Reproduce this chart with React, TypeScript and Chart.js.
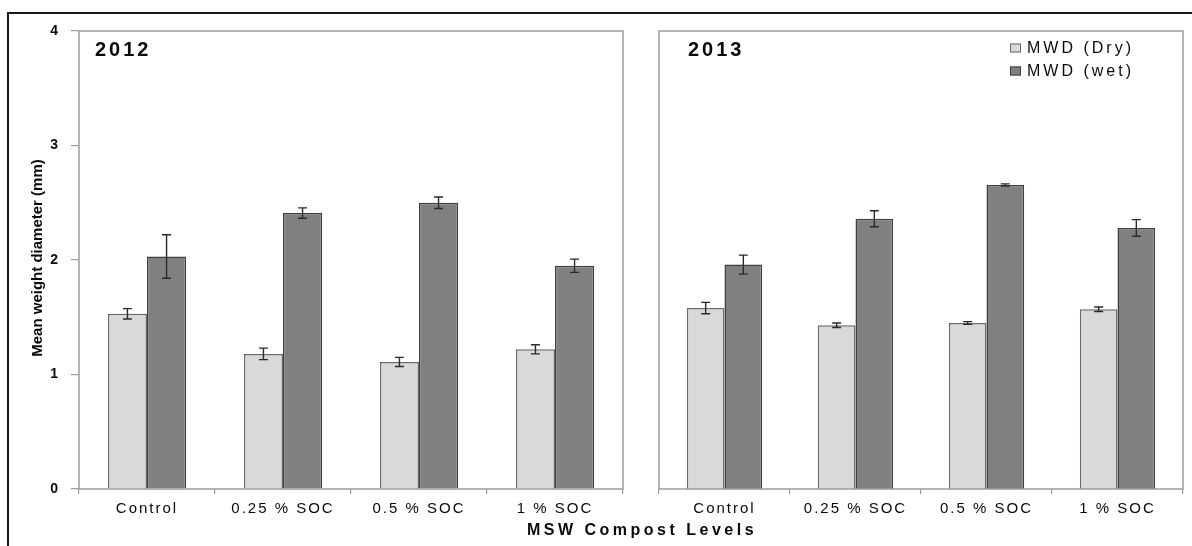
import { useEffect, useRef } from 'react';
import { Chart, registerables } from 'chart.js';

Chart.register(...registerables);

// ---- data ----
const categories = ['Control', '0.25 % SOC', '0.5 % SOC', '1 % SOC'];
const seriesLabels = ['MWD (Dry)', 'MWD (wet)'];
const yearLabels = ['2012', '2013'];

const dry2012 = [1.53, 1.18, 1.11, 1.22];
const wet2012 = [2.03, 2.41, 2.5, 1.95];
const dryErr2012 = [0.045, 0.05, 0.04, 0.04];
const wetErr2012 = [0.19, 0.045, 0.05, 0.058];

const dry2013 = [1.58, 1.43, 1.45, 1.57];
const wet2013 = [1.96, 2.36, 2.655, 2.28];
const dryErr2013 = [0.05, 0.02, 0.012, 0.02];
const wetErr2013 = [0.083, 0.07, 0.01, 0.073];

const yMin = 0;
const yMax = 4;
const yStep = 1;

const yTitle = 'Mean weight diameter (mm)';
const xTitle = 'MSW Compost Levels';

// ---- styles ----
const FONT = '"Liberation Sans", Arial, Helvetica, sans-serif';
const DRY_FILL = '#d9d9d9';
const DRY_BORDER = '#6a6a6a';
const WET_FILL = '#808080';
const WET_BORDER = '#3f3f3f';
const FRAME = '#9c9c9c';
const TEXT = '#0a0a0a';

const decorPlugin = {
  id: 'panelDecor',
  beforeDraw(chart: any) {
    (chart.ctx as any).letterSpacing = '2px';
  },
  afterDatasetsDraw(chart: any) {
    const o = chart.options.plugins.panelDecor;
    const ctx = chart.ctx;
    const yScale = chart.scales.y;
    ctx.save();
    ctx.strokeStyle = '#2a2a2a';
    ctx.lineWidth = 1.4;
    chart.data.datasets.forEach((ds: any, di: number) => {
      const meta = chart.getDatasetMeta(di);
      const errs = o.errors[di];
      meta.data.forEach((bar: any, i: number) => {
        const v = ds.data[i];
        const e = errs[i];
        const x = bar.x;
        const yT = yScale.getPixelForValue(v + e);
        const yB = yScale.getPixelForValue(v - e);
        const cap = 4.5;
        ctx.beginPath();
        ctx.moveTo(x, yT);
        ctx.lineTo(x, yB);
        ctx.moveTo(x - cap, yT);
        ctx.lineTo(x + cap, yT);
        ctx.moveTo(x - cap, yB);
        ctx.lineTo(x + cap, yB);
        ctx.stroke();
      });
    });
    ctx.restore();
  },
  afterDraw(chart: any) {
    const o = chart.options.plugins.panelDecor;
    const ctx = chart.ctx as any;
    const { left, right, top, bottom } = chart.chartArea;
    ctx.save();
    // panel frame
    ctx.strokeStyle = FRAME;
    ctx.lineWidth = 1.5;
    ctx.strokeRect(left, top, right - left, bottom - top);

    // year label
    ctx.fillStyle = TEXT;
    ctx.font = `bold 20px ${FONT}`;
    ctx.letterSpacing = '3px';
    ctx.textAlign = 'left';
    ctx.textBaseline = 'middle';
    ctx.fillText(o.label, left + o.labelOffset, top + 19);

    // legend
    if (o.legend) {
      chart.data.datasets.forEach((ds: any, i: number) => {
        const y = top + 17 + i * 23;
        const sx = right - 173;
        ctx.fillStyle = ds.backgroundColor;
        ctx.fillRect(sx, y - 4.5, 11, 9);
        ctx.strokeStyle = ds.borderColor;
        ctx.lineWidth = 1;
        ctx.strokeRect(sx + 0.5, y - 4, 10, 8);
        ctx.fillStyle = TEXT;
        ctx.font = `16px ${FONT}`;
        ctx.letterSpacing = '3px';
        ctx.textAlign = 'left';
        ctx.textBaseline = 'middle';
        ctx.fillText(ds.label, right - 156, y + 1);
      });
    }

    // y title
    if (o.yTitle) {
      ctx.translate(38, (top + bottom) / 2 - 2);
      ctx.rotate(-Math.PI / 2);
      ctx.fillStyle = TEXT;
      ctx.font = `bold 15px ${FONT}`;
      ctx.letterSpacing = '0px';
      ctx.textAlign = 'center';
      ctx.textBaseline = 'middle';
      ctx.fillText(o.yTitle, 0, 0);
    }
    ctx.restore();
  },
};

function makeConfig(
  dry: number[],
  wet: number[],
  dryErr: number[],
  wetErr: number[],
  label: string,
  isLeft: boolean
): any {
  return {
    type: 'bar',
    data: {
      labels: categories,
      datasets: [
        {
          label: seriesLabels[0],
          data: dry,
          backgroundColor: DRY_FILL,
          borderColor: DRY_BORDER,
          borderWidth: 1.5,
          barPercentage: 1,
          categoryPercentage: 0.575,
        },
        {
          label: seriesLabels[1],
          data: wet,
          backgroundColor: WET_FILL,
          borderColor: WET_BORDER,
          borderWidth: 1.5,
          barPercentage: 1,
          categoryPercentage: 0.575,
        },
      ],
    },
    options: {
      responsive: false,
      animation: false,
      devicePixelRatio: 1,
      layout: {
        padding: isLeft
          ? { left: 0, right: 17, top: 31, bottom: 0 }
          : { left: 19, right: 9, top: 31, bottom: 0 },
      },
      plugins: {
        legend: { display: false },
        tooltip: { enabled: false },
        panelDecor: {
          label,
          labelOffset: isLeft ? 16 : 29,
          legend: !isLeft,
          yTitle: isLeft ? yTitle : null,
          errors: [dryErr, wetErr],
        },
      },
      scales: {
        x: {
          type: 'category',
          offset: true,
          border: { display: false },
          grid: {
            display: true,
            offset: true,
            drawOnChartArea: false,
            drawTicks: true,
            tickLength: 5,
            color: FRAME,
            lineWidth: 1.2,
          },
          ticks: {
            color: TEXT,
            font: { family: FONT, size: 15 },
            padding: 6,
            maxRotation: 0,
            minRotation: 0,
            autoSkip: false,
          },
          afterFit(scale: any) {
            scale.height = 57;
          },
        },
        y: {
          display: isLeft,
          min: yMin,
          max: yMax,
          border: { display: false },
          grid: {
            display: true,
            drawOnChartArea: false,
            drawTicks: true,
            tickLength: 8,
            color: FRAME,
            lineWidth: 1.2,
          },
          ticks: {
            stepSize: yStep,
            color: TEXT,
            padding: 11,
            font: { family: FONT, size: 14, weight: 'bold' },
          },
          afterFit(scale: any) {
            if (isLeft) scale.width = 79;
          },
        },
      },
    },
    plugins: [decorPlugin],
  };
}

export default function App() {
  const leftRef = useRef<HTMLCanvasElement | null>(null);
  const rightRef = useRef<HTMLCanvasElement | null>(null);

  useEffect(() => {
    const c1 = new Chart(
      leftRef.current as HTMLCanvasElement,
      makeConfig(dry2012, wet2012, dryErr2012, wetErr2012, yearLabels[0], true)
    );
    const c2 = new Chart(
      rightRef.current as HTMLCanvasElement,
      makeConfig(dry2013, wet2013, dryErr2013, wetErr2013, yearLabels[1], false)
    );
    return () => {
      c1.destroy();
      c2.destroy();
    };
  }, []);

  return (
    <div
      style={{
        position: 'absolute',
        left: 0,
        top: 0,
        width: 1192,
        height: 546,
        overflow: 'hidden',
        background: '#ffffff',
      }}
    >
      <div
        style={{
          position: 'absolute',
          left: 7,
          top: 12,
          width: 1300,
          height: 700,
          borderLeft: '2px solid #1a1a1a',
          borderTop: '2px solid #1a1a1a',
        }}
      />
      <canvas
        ref={leftRef}
        width={640}
        height={546}
        style={{ position: 'absolute', left: 0, top: 0, width: 640, height: 546 }}
      />
      <canvas
        ref={rightRef}
        width={552}
        height={546}
        style={{ position: 'absolute', left: 640, top: 0, width: 552, height: 546 }}
      />
      <div
        style={{
          position: 'absolute',
          left: 0,
          width: 1284,
          top: 520,
          textAlign: 'center',
          fontFamily: FONT,
          fontWeight: 'bold',
          fontSize: 16,
          letterSpacing: '3.5px',
          color: TEXT,
          lineHeight: '20px',
        }}
      >
        {xTitle}
      </div>
    </div>
  );
}
